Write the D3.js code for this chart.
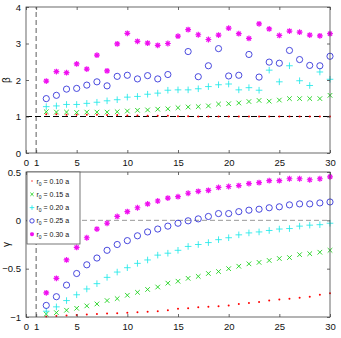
<!DOCTYPE html>
<html><head><meta charset="utf-8">
<script src="https://cdn.jsdelivr.net/npm/d3@7"></script>
<style>body{margin:0;background:#fff}svg{display:block}text{font-family:"Liberation Sans",Arial,sans-serif}</style>
</head><body><svg id="c" width="341" height="338"></svg>
<script>
const xs = d3.range(2, 31);
const labels = ["r0 = 0.10 a","r0 = 0.15 a","r0 = 0.20 a","r0 = 0.25 a","r0 = 0.30 a"];
// beta (top panel)
const beta010 = [1.06,1.06,1.05,1.05,1.05,1.05,1.04,1.04,1.03,1.03,1.02,1.02,1.02,1.01,1.01,1.0,1.0,1.0,1.0,1.0,1.0,1.0,1.0,1.0,1.0,1.0,1.0,1.0,1.0];
const beta015 = [1.13,1.12,1.12,1.11,1.12,1.12,1.12,1.13,1.15,1.17,1.18,1.20,1.21,1.24,1.26,1.27,1.29,1.34,1.35,1.37,1.41,1.44,1.42,1.45,1.49,1.49,1.49,1.49,1.58];
const beta020 = [1.27,1.29,1.33,1.33,1.36,1.39,1.43,1.46,1.53,1.55,1.61,1.64,1.72,1.73,1.73,1.76,1.82,1.87,1.89,1.73,1.79,1.72,2.27,1.95,2.39,1.98,1.85,2.22,2.02];
const beta025 = [1.49,1.58,1.75,1.77,1.86,1.95,1.84,2.10,2.13,2.03,2.12,2.03,2.15,null,2.78,2.09,2.39,2.86,2.11,2.13,2.70,2.08,2.49,2.46,2.81,2.56,2.40,2.39,2.65];
const beta030 = [1.97,2.23,2.20,2.44,2.30,2.68,2.25,2.99,3.28,3.06,3.01,2.95,3.00,3.20,3.38,3.24,3.11,3.23,3.42,3.27,3.14,3.54,3.40,3.22,3.34,3.31,3.23,3.21,3.27];
// gamma (bottom panel)
const gamma010 = [-0.995,-0.99,-0.985,-0.98,-0.975,-0.97,-0.965,-0.96,-0.955,-0.95,-0.945,-0.94,-0.93,-0.915,-0.91,-0.90,-0.895,-0.89,-0.88,-0.865,-0.855,-0.845,-0.83,-0.82,-0.81,-0.80,-0.79,-0.77,-0.755];
const gamma015 = [-0.97,-0.955,-0.93,-0.91,-0.885,-0.865,-0.83,-0.81,-0.775,-0.745,-0.715,-0.69,-0.65,-0.63,-0.60,-0.58,-0.55,-0.53,-0.50,-0.475,-0.45,-0.435,-0.415,-0.395,-0.385,-0.355,-0.345,-0.33,-0.31];
const gamma020 = [-0.94,-0.895,-0.83,-0.77,-0.71,-0.655,-0.59,-0.535,-0.49,-0.445,-0.41,-0.36,-0.34,-0.31,-0.27,-0.25,-0.23,-0.20,-0.18,-0.15,-0.13,-0.12,-0.105,-0.09,-0.085,-0.06,-0.05,-0.045,-0.03];
const gamma025 = [-0.88,-0.79,-0.67,-0.55,-0.46,-0.39,-0.31,-0.25,-0.21,-0.16,-0.12,-0.09,-0.06,-0.03,-0.005,0.015,0.04,0.07,0.07,0.09,0.105,0.115,0.13,0.14,0.16,0.17,0.17,0.18,0.19];
const gamma030 = [-0.75,-0.60,-0.41,-0.28,-0.18,-0.09,-0.03,0.04,0.09,0.13,0.17,0.20,0.23,0.245,0.28,0.30,0.31,0.34,0.35,0.36,0.38,0.39,0.41,0.41,0.43,0.43,0.42,0.43,0.45];
const xTicks = [0,1,5,10,15,20,25,30];
const betaTicks = [0,1,2,3,4];
const gammaTicks = [-1,-0.5,0,0.5];

const colors = ["#ff0000","#10d010","#20e8e8","#2a2ad8","#f010f0"];
const markers = ["dot","x","plus","circle","star"];

const svg = d3.select("#c");
const L = 26, R = 330;
const x = d3.scaleLinear().domain([0,30]).range([L,R]);

function markerPath(type, s){
  if(type==="plus") return `M${-s},0H${s}M0,${-s}V${s}`;
  if(type==="x") return `M${-s},${-s}L${s},${s}M${-s},${s}L${s},${-s}`;
  if(type==="star"){ const d=s*0.72; return `M${-s},0H${s}M0,${-s}V${s}M${-d},${-d}L${d},${d}M${-d},${d}L${d},${-d}`; }
  return "";
}
function drawMarker(g, type, color, cx, cy, k){
  k = k || 1;
  if(type==="dot") g.append("circle").attr("cx",cx).attr("cy",cy).attr("r",1.0*k).attr("fill",color);
  else if(type==="circle") g.append("circle").attr("cx",cx).attr("cy",cy).attr("r",3.1*k).attr("fill","none").attr("stroke",color).attr("stroke-width",0.85);
  else g.append("path").attr("transform",`translate(${cx},${cy})`).attr("d",markerPath(type, (type==="x"?2.3:(type==="star"?2.9:3.3))*k)).attr("fill","none").attr("stroke",color).attr("stroke-width",type==="star"?1.2:0.85);
}

function panel(top, bottom, domain, ticks, series, ylab, hline, hstyle, fmt){
  const y = d3.scaleLinear().domain(domain).range([bottom, top]);
  const g = svg.append("g");
  g.append("line").attr("x1",x(1)).attr("x2",x(1)).attr("y1",y(domain[0])).attr("y2",y(domain[1]))
    .attr("stroke","#333").attr("stroke-width",0.8).attr("stroke-dasharray","5,3");
  g.append("line").attr("x1",x(0)).attr("x2",x(30)).attr("y1",y(hline)).attr("y2",y(hline))
    .attr("stroke",hstyle.c).attr("stroke-width",hstyle.w).attr("stroke-dasharray",hstyle.d);
  series.forEach((vals,i)=>{
    const sg = g.append("g");
    vals.forEach((v,j)=>{ if(v!==null) drawMarker(sg, markers[i], colors[i], x(xs[j]), y(v)); });
  });
  g.append("rect").attr("x",L).attr("y",top).attr("width",R-L).attr("height",bottom-top)
    .attr("fill","none").attr("stroke","#444").attr("stroke-width",0.8);
  const ax = g.append("g").attr("transform",`translate(0,${bottom})`)
    .call(d3.axisBottom(x).tickValues(xTicks).tickSize(-3).tickPadding(6).tickFormat(d3.format("d")));
  const axT = g.append("g").attr("transform",`translate(0,${top})`)
    .call(d3.axisTop(x).tickValues(xTicks).tickSize(-3).tickFormat(""));
  const ay = g.append("g").attr("transform",`translate(${L},0)`)
    .call(d3.axisLeft(y).tickValues(ticks).tickSize(-3).tickPadding(5).tickFormat(fmt));
  const ayR = g.append("g").attr("transform",`translate(${R},0)`)
    .call(d3.axisRight(y).tickValues(ticks).tickSize(-3).tickFormat(""));
  [ax,axT,ay,ayR].forEach(a=>{
    a.select(".domain").remove();
    a.selectAll("line").attr("stroke","#444").attr("stroke-width",0.8);
    a.selectAll("text").attr("font-size",9.5).attr("fill","#111").style("font-family","'Liberation Sans',Arial,sans-serif");
  });
  g.append("text").attr("transform",`translate(10,${(top+bottom)/2}) rotate(-90)`)
    .attr("text-anchor","middle").attr("font-size",10).attr("fill","#111").text(ylab);
  return y;
}

panel(7,153,[0,4],betaTicks,[beta010,beta015,beta020,beta025,beta030],"β",1,{c:"#000",w:1.2,d:"6,3"},d3.format("d"));
panel(172,317,[-1,0.5],gammaTicks,[gamma010,gamma015,gamma020,gamma025,gamma030],"γ",0,{c:"#999",w:1,d:"5,3"},d=>d===0?"0":(d<0?"\u2212":"")+Math.abs(d));

// legend
const lg = svg.append("g");
lg.append("rect").attr("x",27).attr("y",172).attr("width",53).attr("height",72)
  .attr("fill","#fff").attr("stroke","#555").attr("stroke-width",0.8);
labels.forEach((t,i)=>{
  const yy = 181 + i*13.3;
  drawMarker(lg, markers[i], colors[i], 32, yy, 0.7);
  const tx = lg.append("text").attr("x",36.5).attr("y",yy+2.5).attr("font-size",7).attr("fill","#111");
  tx.append("tspan").text("r");
  tx.append("tspan").attr("font-size",5).attr("dy",2).text("0");
  tx.append("tspan").attr("dy",-2).text(" = " + t.split("= ")[1]);
});
</script></body></html>
